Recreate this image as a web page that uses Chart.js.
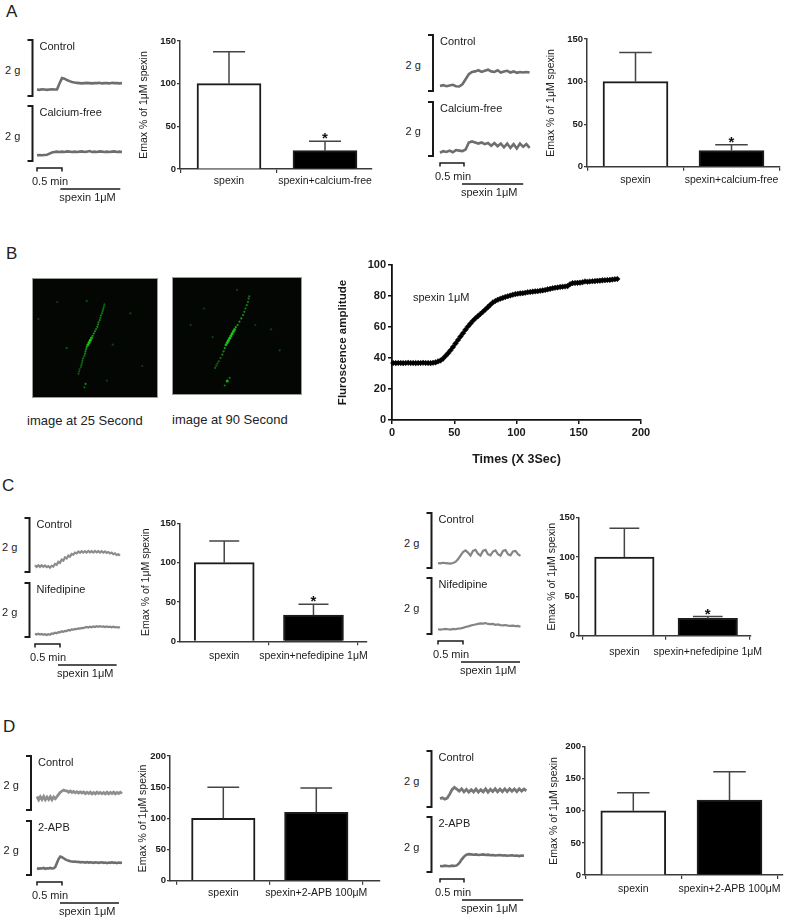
<!DOCTYPE html>
<html><head><meta charset="utf-8">
<script src="https://cdn.jsdelivr.net/npm/chart.js@4.4.1/dist/chart.umd.min.js"></script>
<style>
html,body{margin:0;padding:0;background:#fff;}
body{width:787px;height:922px;position:relative;overflow:hidden;font-family:"Liberation Sans",Arial,sans-serif;color:#222;}
.t{position:absolute;white-space:nowrap;line-height:1;}
canvas{position:absolute;}
</style></head><body>
<script>
// ---------------- DATA ----------------
// Bar charts (Emax % of 1µM spexin)
const barCatsA = ['spexin', 'spexin+calcium-free'];
const barCatsC = ['spexin', 'spexin+nefedipine 1μM'];
const barCatsD = ['spexin', 'spexin+2-APB 100μM'];
const emaxA1 = [100, 21.5], errA1 = [37.5, 11], sigA1 = ['', '*'];
const emaxA2 = [100, 18.8], errA2 = [34, 7], sigA2 = ['', '*'];
const emaxC1 = [100, 33.4], errC1 = [27.4, 13.6], sigC1 = ['', '*'];
const emaxC2 = [100, 22], errC2 = [36.5, 2.3], sigC2 = ['', '*'];
const emaxD1 = [100, 109.7], errD1 = [49.8, 39], sigD1 = ['', ''];
const emaxD2 = [100, 116.9], errD2 = [28.3, 44], sigD2 = ['', ''];
const yTicks150 = [0, 50, 100, 150];
const yTicks200 = [0, 50, 100, 150, 200];

// Panel B fluorescence time course (x: times in units of 3 s)
const fluorTime = [1,3,5,7,9,11,13,15,17,19,21,23,25,27,29,31,33,35,37,39,41,43,45,47,49,51,53,55,57,59,61,63,65,67,69,71,73,75,77,79,81,83,85,87,89,91,93,95,97,99,101,103,105,107,109,111,113,115,117,119,121,123,125,127,129,131,133,135,137,139,141,143,145,147,149,151,153,155,157,159,161,163,165,167,169,171,173,175,177,179,181];
const fluorAmp = [36.8,36.7,36.8,36.8,36.7,36.8,36.9,36.8,36.8,36.7,36.8,36.8,36.9,36.8,36.8,36.7,36.9,
 37.2,37.8,38.4,39.6,41.3,43.0,45.0,47.1,49.4,51.6,53.8,56.0,58.2,60.3,62.2,64.0,65.6,67.0,68.4,69.8,71.3,72.8,74.4,75.8,76.8,77.6,78.2,78.8,79.4,79.8,80.3,80.8,81.2,81.5,81.7,81.8,82.1,82.4,82.6,82.8,83.0,83.1,83.4,83.6,83.9,84.3,84.6,85.0,85.3,85.5,85.8,86.0,86.1,86.4,87.6,88.3,88.4,88.5,88.6,88.9,89.4,89.2,89.4,89.5,89.6,89.8,89.9,90.1,90.2,90.3,90.4,90.6,90.8,91.0];
const fluorYTicks = [0, 20, 40, 60, 80, 100];
const fluorXTicks = [0, 50, 100, 150, 200];

// Panel B confocal images: fluorescent points (x,y in % of frame, intensity 0-1)
const img25X = [58,57.5,57,56.5,56,55,54.5,54,53,52.5,52,51,50,49,48,47,46,45,44,43,42.5,42,41.5,41,40,39.5,39,38.5,38,37,36.5,36, 43,80,26,42,41,65,2,18,90,60];
const img25Y = [20,22,24,26,28,30,32,34,36,38,40,42,44,46,48,50,52,54,56,58,60,62,64,66,68,70,72,74,76,78,80,82, 17,28,59,91,94,56,33,18,75,88];
const img25I = [0.5,0.55,0.6,0.6,0.6,0.65,0.6,0.65,0.7,0.65,0.7,0.7,0.75,0.8,0.85,0.9,1,1,0.95,0.85,0.75,0.7,0.65,0.6,0.55,0.55,0.5,0.5,0.45,0.45,0.4,0.4, 0.4,0.35,0.45,0.7,0.5,0.3,0.25,0.25,0.25,0.3];
const img90X = [60,59.5,59,58,57,56,55,53.5,52,50.5,49,48,47,46,45,44,43,42,41,40,39,38,36.5,35,34,33,32, 42,40,44,12,23,85,78,30,50,65];
const img90Y = [14,16,19,22,25,28,31,34,37,40,42,44,46,48,50,52,54,56,58,61,64,67,70,73,75,77,79, 91,95,88,40,25,63,44,51,8,40];
const img90I = [0.55,0.6,0.6,0.65,0.65,0.7,0.7,0.75,0.75,0.8,0.85,0.9,0.95,1,1,1,1,0.95,0.9,0.8,0.7,0.65,0.6,0.55,0.5,0.5,0.45, 0.9,0.6,0.6,0.3,0.25,0.35,0.3,0.3,0.3,0.25];

// Isometric tension traces (g above bracket base), uniform sampling
const traceA1Control = [0.23,0.22,0.24,0.23,0.22,0.23,0.24,0.23,0.23,0.45,0.64,0.62,0.57,0.53,0.5,0.48,0.47,0.46,0.45,0.46,0.47,0.46,0.45,0.46,0.46,0.47,0.45,0.46,0.46,0.45,0.47,0.46,0.46,0.45,0.46];
const traceA1CaFree = [0.21,0.22,0.21,0.22,0.23,0.27,0.31,0.33,0.34,0.33,0.34,0.33,0.35,0.34,0.33,0.34,0.33,0.34,0.35,0.33,0.34,0.36,0.33,0.34,0.33,0.35,0.34,0.33,0.34,0.33,0.34,0.35,0.33,0.34,0.33];
const traceA2Control = [0.18,0.21,0.17,0.2,0.22,0.17,0.16,0.24,0.42,0.6,0.68,0.7,0.74,0.68,0.72,0.76,0.7,0.68,0.74,0.66,0.7,0.72,0.66,0.7,0.65,0.68,0.66,0.68,0.66];
const traceA2CaFree = [0.12,0.18,0.15,0.2,0.14,0.22,0.2,0.18,0.24,0.5,0.54,0.5,0.46,0.5,0.44,0.48,0.38,0.48,0.36,0.46,0.32,0.46,0.3,0.44,0.28,0.46,0.34,0.44,0.3];
const traceC1Control = [0.25,0.19,0.25,0.19,0.25,0.19,0.24,0.18,0.22,0.16,0.23,0.2,0.3,0.27,0.38,0.34,0.46,0.42,0.54,0.5,0.61,0.57,0.67,0.64,0.72,0.69,0.76,0.71,0.77,0.72,0.77,0.72,0.78,0.73,0.77,0.72,0.78,0.73,0.77,0.72,0.77,0.72,0.76,0.71,0.74,0.69,0.72,0.66,0.69,0.63,0.66,0.61];
const traceC1Nif = [0.12,0.09,0.12,0.09,0.11,0.08,0.1,0.07,0.1,0.08,0.13,0.12,0.16,0.14,0.18,0.17,0.21,0.19,0.23,0.22,0.26,0.24,0.28,0.27,0.3,0.29,0.32,0.31,0.34,0.33,0.35,0.37,0.35,0.38,0.36,0.39,0.37,0.4,0.38,0.4,0.38,0.39,0.37,0.39,0.37,0.38,0.36,0.38,0.36,0.37,0.35,0.37];
const traceC2Control = [0.18,0.17,0.19,0.18,0.17,0.16,0.18,0.22,0.32,0.45,0.58,0.64,0.56,0.45,0.62,0.66,0.52,0.45,0.62,0.66,0.5,0.46,0.6,0.64,0.5,0.45,0.62,0.65,0.5,0.46,0.6,0.62,0.5,0.44];
const traceC2Nif = [0.17,0.16,0.17,0.18,0.17,0.16,0.18,0.17,0.19,0.2,0.22,0.25,0.27,0.3,0.32,0.34,0.36,0.38,0.37,0.39,0.36,0.35,0.36,0.33,0.34,0.32,0.31,0.32,0.3,0.29,0.3,0.28,0.29,0.26];
const traceD1Control = [0.5,0.38,0.49,0.39,0.5,0.38,0.48,0.39,0.49,0.38,0.48,0.42,0.5,0.58,0.66,0.7,0.74,0.71,0.71,0.66,0.7,0.65,0.69,0.64,0.68,0.63,0.67,0.63,0.67,0.61,0.66,0.61,0.66,0.6,0.65,0.6,0.66,0.61,0.65,0.6,0.65,0.6,0.66,0.6,0.65,0.61,0.66,0.6,0.65,0.61,0.66,0.61];
const traceD1APB = [0.26,0.23,0.25,0.24,0.26,0.23,0.25,0.24,0.26,0.24,0.25,0.3,0.45,0.6,0.68,0.66,0.62,0.58,0.55,0.53,0.51,0.5,0.49,0.5,0.48,0.49,0.47,0.48,0.47,0.46,0.48,0.46,0.47,0.46,0.45,0.47,0.46,0.45,0.46,0.47,0.45,0.46,0.44,0.46,0.45,0.47,0.45,0.46,0.44,0.46,0.45,0.46];
const traceD2Control = [0.3,0.33,0.28,0.32,0.45,0.62,0.7,0.64,0.57,0.65,0.54,0.63,0.53,0.62,0.54,0.64,0.53,0.62,0.54,0.65,0.53,0.63,0.55,0.65,0.54,0.64,0.55,0.65,0.55,0.65,0.56,0.64,0.55,0.65,0.57,0.64,0.58];
const traceD2APB = [0.22,0.21,0.23,0.22,0.21,0.23,0.22,0.24,0.32,0.45,0.56,0.63,0.65,0.64,0.63,0.64,0.62,0.63,0.64,0.62,0.63,0.61,0.62,0.6,0.61,0.62,0.6,0.61,0.59,0.6,0.61,0.59,0.6,0.58,0.6,0.59];

// ---------------- HELPERS ----------------
Chart.defaults.font.family = '"Liberation Sans", Arial, Helvetica, sans-serif';
Chart.defaults.color = '#222';
const FONT = '"Liberation Sans", Arial, Helvetica, sans-serif';

function mk(left, top, w, h) {
  const c = document.createElement('canvas');
  c.width = w; c.height = h;
  c.style.left = left + 'px'; c.style.top = top + 'px';
  c.style.width = w + 'px'; c.style.height = h + 'px';
  document.body.appendChild(c);
  return c;
}
function txt(s, x, y, size, weight) {
  const d = document.createElement('div');
  d.className = 't';
  d.textContent = s;
  d.style.left = x + 'px'; d.style.top = y + 'px';
  d.style.fontSize = size + 'px';
  if (weight) d.style.fontWeight = weight;
  document.body.appendChild(d);
  return d;
}
const baseOpts = {responsive: false, animation: false, events: [], devicePixelRatio: 1,
  plugins: {legend: {display: false}, tooltip: {enabled: false}}};

// ---------------- PANEL LETTERS ----------------
txt('A', 6, 3, 17); txt('B', 6, 245, 17); txt('C', 2, 477, 17); txt('D', 3, 718, 17);

// ---------------- TRACES ----------------
const tracePanels = [
  {bx: 32.5, x0: 37, pxs: 0.833, sp: [28, 100], tr: [
    {top: 40, h: 56, data: traceA1Control, dt: 3, label: 'Control'},
    {top: 106, h: 55, data: traceA1CaFree, dt: 3, label: 'Calcium-free'}]},
  {bx: 433, x0: 440, pxs: 0.8, sp: [27.5, 104], tr: [
    {top: 35, h: 56, data: traceA2Control, dt: 4, label: 'Control'},
    {top: 102, h: 54, data: traceA2CaFree, dt: 4, label: 'Calcium-free'}]},
  {bx: 29.5, x0: 35, pxs: 0.833, sp: [27.6, 98], tr: [
    {top: 518, h: 54, data: traceC1Control, dt: 2, label: 'Control', color: '#8c8c8c', lw: 2.2},
    {top: 583, h: 54, data: traceC1Nif, dt: 2, label: 'Nifedipine', color: '#868686', lw: 2.2}]},
  {bx: 431.5, x0: 438, pxs: 0.833, sp: [27.6, 98.4], tr: [
    {top: 513, h: 55, data: traceC2Control, dt: 3, label: 'Control', color: '#858585', lw: 2.2},
    {top: 578, h: 56, data: traceC2Nif, dt: 3, label: 'Nifedipine', color: '#858585', lw: 2.2}]},
  {bx: 31, x0: 37, pxs: 0.833, sp: [27.6, 98.4], tr: [
    {top: 756, h: 54, data: traceD1Control, dt: 2, label: 'Control', color: '#8e8e8e', lw: 2.8},
    {top: 821, h: 54, data: traceD1APB, dt: 2, label: '2-APB'}]},
  {bx: 431.5, x0: 440, pxs: 0.8, sp: [27.5, 104], tr: [
    {top: 751, h: 56, data: traceD2Control, dt: 3, label: 'Control', color: '#777', lw: 2.8},
    {top: 817, h: 55, data: traceD2APB, dt: 3, label: '2-APB'}]}
];

function tracePanel(p) {
  p.tr.forEach((tr, k) => {
    const lower = k === 1;
    const tMax = (tr.data.length - 1) * tr.dt;
    const left = Math.floor(p.bx - 8);
    const padL = p.x0 - left;
    const padT = 3;
    const padB = lower ? 34 : 3;
    const W = Math.ceil(padL + tMax * p.pxs + 5);
    const padR = W - padL - tMax * p.pxs;
    const H = padT + tr.h + padB;
    const cv = mk(left, tr.top - padT, W, H);
    new Chart(cv, {
      type: 'line',
      data: {datasets: [{data: tr.data.map((v, i) => ({x: i * tr.dt, y: v})),
        borderColor: tr.color || '#6e6e6e', borderWidth: tr.lw || 2.6, pointRadius: 0, tension: 0, clip: false}]},
      options: Object.assign({}, baseOpts, {
        layout: {padding: {left: padL, right: padR, top: padT, bottom: padB}},
        scales: {x: {type: 'linear', display: false, min: 0, max: tMax},
                 y: {type: 'linear', display: false, min: 0, max: 2}}
      }),
      plugins: [{id: 'bracket', afterDraw(ch) {
        const ctx = ch.ctx, xs = ch.scales.x, ys = ch.scales.y;
        const bxp = xs.getPixelForValue(0) - (p.x0 - p.bx);
        const yT = ys.getPixelForValue(2), yB = ys.getPixelForValue(0);
        ctx.save();
        ctx.strokeStyle = '#1a1a1a'; ctx.lineWidth = 2;
        ctx.beginPath();
        ctx.moveTo(bxp - 5, yT); ctx.lineTo(bxp, yT); ctx.lineTo(bxp, yB); ctx.lineTo(bxp - 5, yB);
        ctx.stroke();
        if (lower) {
          ctx.lineWidth = 1.5;
          const ys1 = yB + 7;
          const xa = xs.getPixelForValue(0), xb = xs.getPixelForValue(30);
          ctx.beginPath();
          ctx.moveTo(xa, ys1 + 3.5); ctx.lineTo(xa, ys1); ctx.lineTo(xb, ys1); ctx.lineTo(xb, ys1 + 3.5);
          ctx.stroke();
          const ys2 = yB + 28;
          ctx.beginPath();
          ctx.moveTo(xs.getPixelForValue(p.sp[0]), ys2); ctx.lineTo(xs.getPixelForValue(p.sp[1]), ys2);
          ctx.stroke();
        }
        ctx.restore();
      }}]
    });
    txt('2 g', p.bx - 27.5, tr.top + tr.h / 2 - 3, 11);
    txt(tr.label, p.bx + 7, tr.top + 0.5, 11);
    if (lower) {
      const bot = tr.top + tr.h;
      txt('0.5 min', p.x0 - 5, bot + 14.5, 11);
      txt('spexin 1μM', p.x0 + p.sp[0] * p.pxs - 1, bot + 31, 11);
    }
  });
}
tracePanels.forEach(tracePanel);

// ---------------- BAR CHARTS ----------------
const barCharts = [
  {axisX: 180, xEnd: 372, yTop: 41, y0: 169, yMax: 150, yt: yTicks150, c1: 229, c2: 325, bw: 64, axisW: 42, lp: 2, cats: barCatsA, values: emaxA1, errs: errA1, sig: sigA1},
  {axisX: 587, xEnd: 780, yTop: 39, y0: 166.7, yMax: 150, yt: yTicks150, c1: 635.5, c2: 731.5, bw: 65, axisW: 42, lp: 3, cats: barCatsA, values: emaxA2, errs: errA2, sig: sigA2},
  {axisX: 180, xEnd: 367, yTop: 523.3, y0: 641.3, yMax: 150, yt: yTicks150, c1: 224.3, c2: 313.7, bw: 60, axisW: 40, lp: 5, cats: barCatsC, values: emaxC1, errs: errC1, sig: sigC1},
  {axisX: 579, xEnd: 762, yTop: 517.7, y0: 635.7, yMax: 150, yt: yTicks150, c1: 627.5, c2: 716.7, bw: 59.5, axisW: 33, lp: 6, cats: barCatsC, values: emaxC2, errs: errC2, sig: sigC2},
  {axisX: 170, xEnd: 380, yTop: 756, y0: 880.7, yMax: 200, yt: yTicks200, c1: 223.3, c2: 316.3, bw: 63.5, axisW: 33, lp: 2, cats: barCatsD, values: emaxD1, errs: errD1, sig: sigD1},
  {axisX: 585, xEnd: 783, yTop: 746.7, y0: 875, yMax: 200, yt: yTicks200, c1: 633.3, c2: 729.5, bw: 65, axisW: 37, lp: 4, cats: barCatsD, values: emaxD2, errs: errD2, sig: sigD2}
];

function barChart(b) {
  const xAxisH = 26;
  const left = Math.floor(b.axisX - b.axisW - 2);
  const top = Math.floor(b.yTop - 8);
  const W = Math.min(787 - left, Math.ceil(b.xEnd + 8 - left));
  const H = Math.ceil(b.y0 + xAxisH + 2 - top);
  const cv = mk(left, top, W, H);
  const unit = b.c2 - b.c1;
  const xmin = 1 - (b.c1 - b.axisX) / unit;
  const xmax = 2 + (b.xEnd - b.c2) / unit;
  new Chart(cv, {
    type: 'bar',
    data: {datasets: [{
      data: b.values.map((v, i) => ({x: i + 1, y: v})),
      backgroundColor: ['#ffffff', '#000000'], borderColor: '#1c1c1c', borderWidth: 2,
      barThickness: b.bw, borderSkipped: 'start'}]},
    options: Object.assign({}, baseOpts, {
      layout: {padding: {left: b.axisX - b.axisW - left, top: b.yTop - top, right: W - (b.xEnd - left), bottom: H - (b.y0 - top) - xAxisH}},
      scales: {
        x: {type: 'linear', min: xmin, max: xmax, offset: false,
          afterBuildTicks: s => { s.ticks = b.cats.map((c, i) => ({value: i + 1})); },
          afterFit: s => { s.height = xAxisH; },
          ticks: {callback: v => b.cats[Math.round(v) - 1], autoSkip: false, maxRotation: 0, minRotation: 0,
                  padding: b.lp, font: {size: 10.5}, color: '#1a1a1a'},
          grid: {drawOnChartArea: false, tickLength: 4, color: '#3a3a3a', lineWidth: 1.2},
          border: {color: '#3a3a3a', width: 1.5}},
        y: {type: 'linear', min: 0, max: b.yMax,
          afterBuildTicks: s => { s.ticks = b.yt.map(v => ({value: v})); },
          afterFit: s => { s.width = b.axisW; },
          ticks: {font: {size: 9.5, weight: 'bold'}, color: '#1a1a1a', padding: 1},
          grid: {drawOnChartArea: false, tickLength: 3, color: '#3a3a3a', lineWidth: 1.2},
          border: {color: '#3a3a3a', width: 1.5},
          title: {display: true, text: 'Emax % of 1μM spexin', font: {size: 10.5}, color: '#222', padding: {top: 0, bottom: 0}}}
      }
    }),
    plugins: [{id: 'errbars', afterDatasetsDraw(ch) {
      const ctx = ch.ctx, xs = ch.scales.x, ys = ch.scales.y;
      ctx.save();
      b.values.forEach((v, i) => {
        const x = xs.getPixelForValue(i + 1);
        const yv = ys.getPixelForValue(v), ye = ys.getPixelForValue(v + b.errs[i]);
        const cw = b.bw * 0.25;
        ctx.strokeStyle = '#444'; ctx.lineWidth = 1.5;
        ctx.beginPath();
        ctx.moveTo(x, yv); ctx.lineTo(x, ye);
        ctx.moveTo(x - cw, ye); ctx.lineTo(x + cw, ye);
        ctx.stroke();
        if (b.sig[i]) {
          ctx.fillStyle = '#111';
          ctx.font = 'bold 15px ' + FONT;
          ctx.textAlign = 'center'; ctx.textBaseline = 'alphabetic';
          ctx.fillText(b.sig[i], x, ye + 2);
        }
      });
      ctx.restore();
    }}]
  });
}
barCharts.forEach(barChart);

// ---------------- PANEL B: fluorescence chart ----------------
(function () {
  const axisX = 392, xEnd = 641, yTop = 265, y0 = 420, axisW = 56, xAxisH = 47;
  const left = axisX - axisW - 2, top = yTop - 10;
  const W = xEnd + 16 - left, H = y0 + xAxisH + 2 - top;
  const cv = mk(left, top, W, H);
  new Chart(cv, {
    type: 'scatter',
    data: {datasets: [{data: fluorTime.map((t, i) => ({x: t, y: fluorAmp[i]})),
      pointStyle: 'rectRot', pointRadius: 2.8, backgroundColor: '#000', borderColor: '#000',
      pointBorderWidth: 0.5, showLine: true, borderWidth: 1.5, clip: false}]},
    options: Object.assign({}, baseOpts, {
      layout: {padding: {left: 2, top: 10, right: W - (xEnd - left), bottom: 2}},
      scales: {
        x: {type: 'linear', min: 0, max: 200,
          afterBuildTicks: s => { s.ticks = fluorXTicks.map(v => ({value: v})); },
          afterFit: s => { s.height = xAxisH; },
          ticks: {font: {size: 11, weight: 'bold'}, color: '#1a1a1a', padding: 2, maxRotation: 0},
          grid: {drawOnChartArea: false, tickLength: 4, color: '#111', lineWidth: 1.5},
          border: {color: '#111', width: 1.8},
          title: {display: true, text: 'Times (X 3Sec)', font: {size: 12.5, weight: 'bold'}, color: '#1a1a1a', padding: {top: 0, bottom: 0}}},
        y: {type: 'linear', min: 0, max: 100,
          afterBuildTicks: s => { s.ticks = fluorYTicks.map(v => ({value: v})); },
          afterFit: s => { s.width = axisW; },
          ticks: {font: {size: 11, weight: 'bold'}, color: '#1a1a1a', padding: 2},
          grid: {drawOnChartArea: false, tickLength: 4, color: '#111', lineWidth: 1.5},
          border: {color: '#111', width: 1.8},
          title: {display: true, text: 'Fluroscence amplitude', font: {size: 11.5, weight: 'bold'}, color: '#1a1a1a', padding: {top: 0, bottom: 0}}}
      }
    })
  });
  txt('spexin 1μM', 413, 291.5, 11);
})();

// ---------------- PANEL B: confocal images ----------------
function imageChart(left, top, w, h, xs, ys, is) {
  const cv = mk(left, top, w, h);
  new Chart(cv, {
    type: 'scatter',
    data: {datasets: [{data: xs.map((x, i) => ({x: x, y: ys[i]})),
      pointRadius: is.map(v => v > 0.85 ? 1.5 : 1.1),
      backgroundColor: is.map(v => 'rgba(25,' + Math.round(90 + 120 * v) + ',25,' + (0.35 + 0.6 * v).toFixed(2) + ')'),
      borderWidth: 0}]},
    options: Object.assign({}, baseOpts, {
      layout: {padding: 0},
      scales: {x: {type: 'linear', display: false, min: 0, max: 100},
               y: {type: 'linear', display: false, min: 0, max: 100, reverse: true}}
    }),
    plugins: [{id: 'bg', beforeDraw(ch) {
      const ctx = ch.ctx;
      ctx.save(); ctx.fillStyle = '#030603'; ctx.fillRect(0, 0, ch.width, ch.height); ctx.restore();
    }, afterDraw(ch) {
      const ctx = ch.ctx;
      ctx.save(); ctx.strokeStyle = '#9a9a9a'; ctx.lineWidth = 1;
      ctx.strokeRect(0.5, 0.5, ch.width - 1, ch.height - 1); ctx.restore();
    }}]
  });
}
imageChart(32, 278, 126, 120, img25X, img25Y, img25I);
imageChart(172, 277, 130, 118, img90X, img90Y, img90I);
txt('image at 25 Second', 27, 414, 13);
txt('image at 90 Second', 172, 413, 13);
</script>
</body></html>
